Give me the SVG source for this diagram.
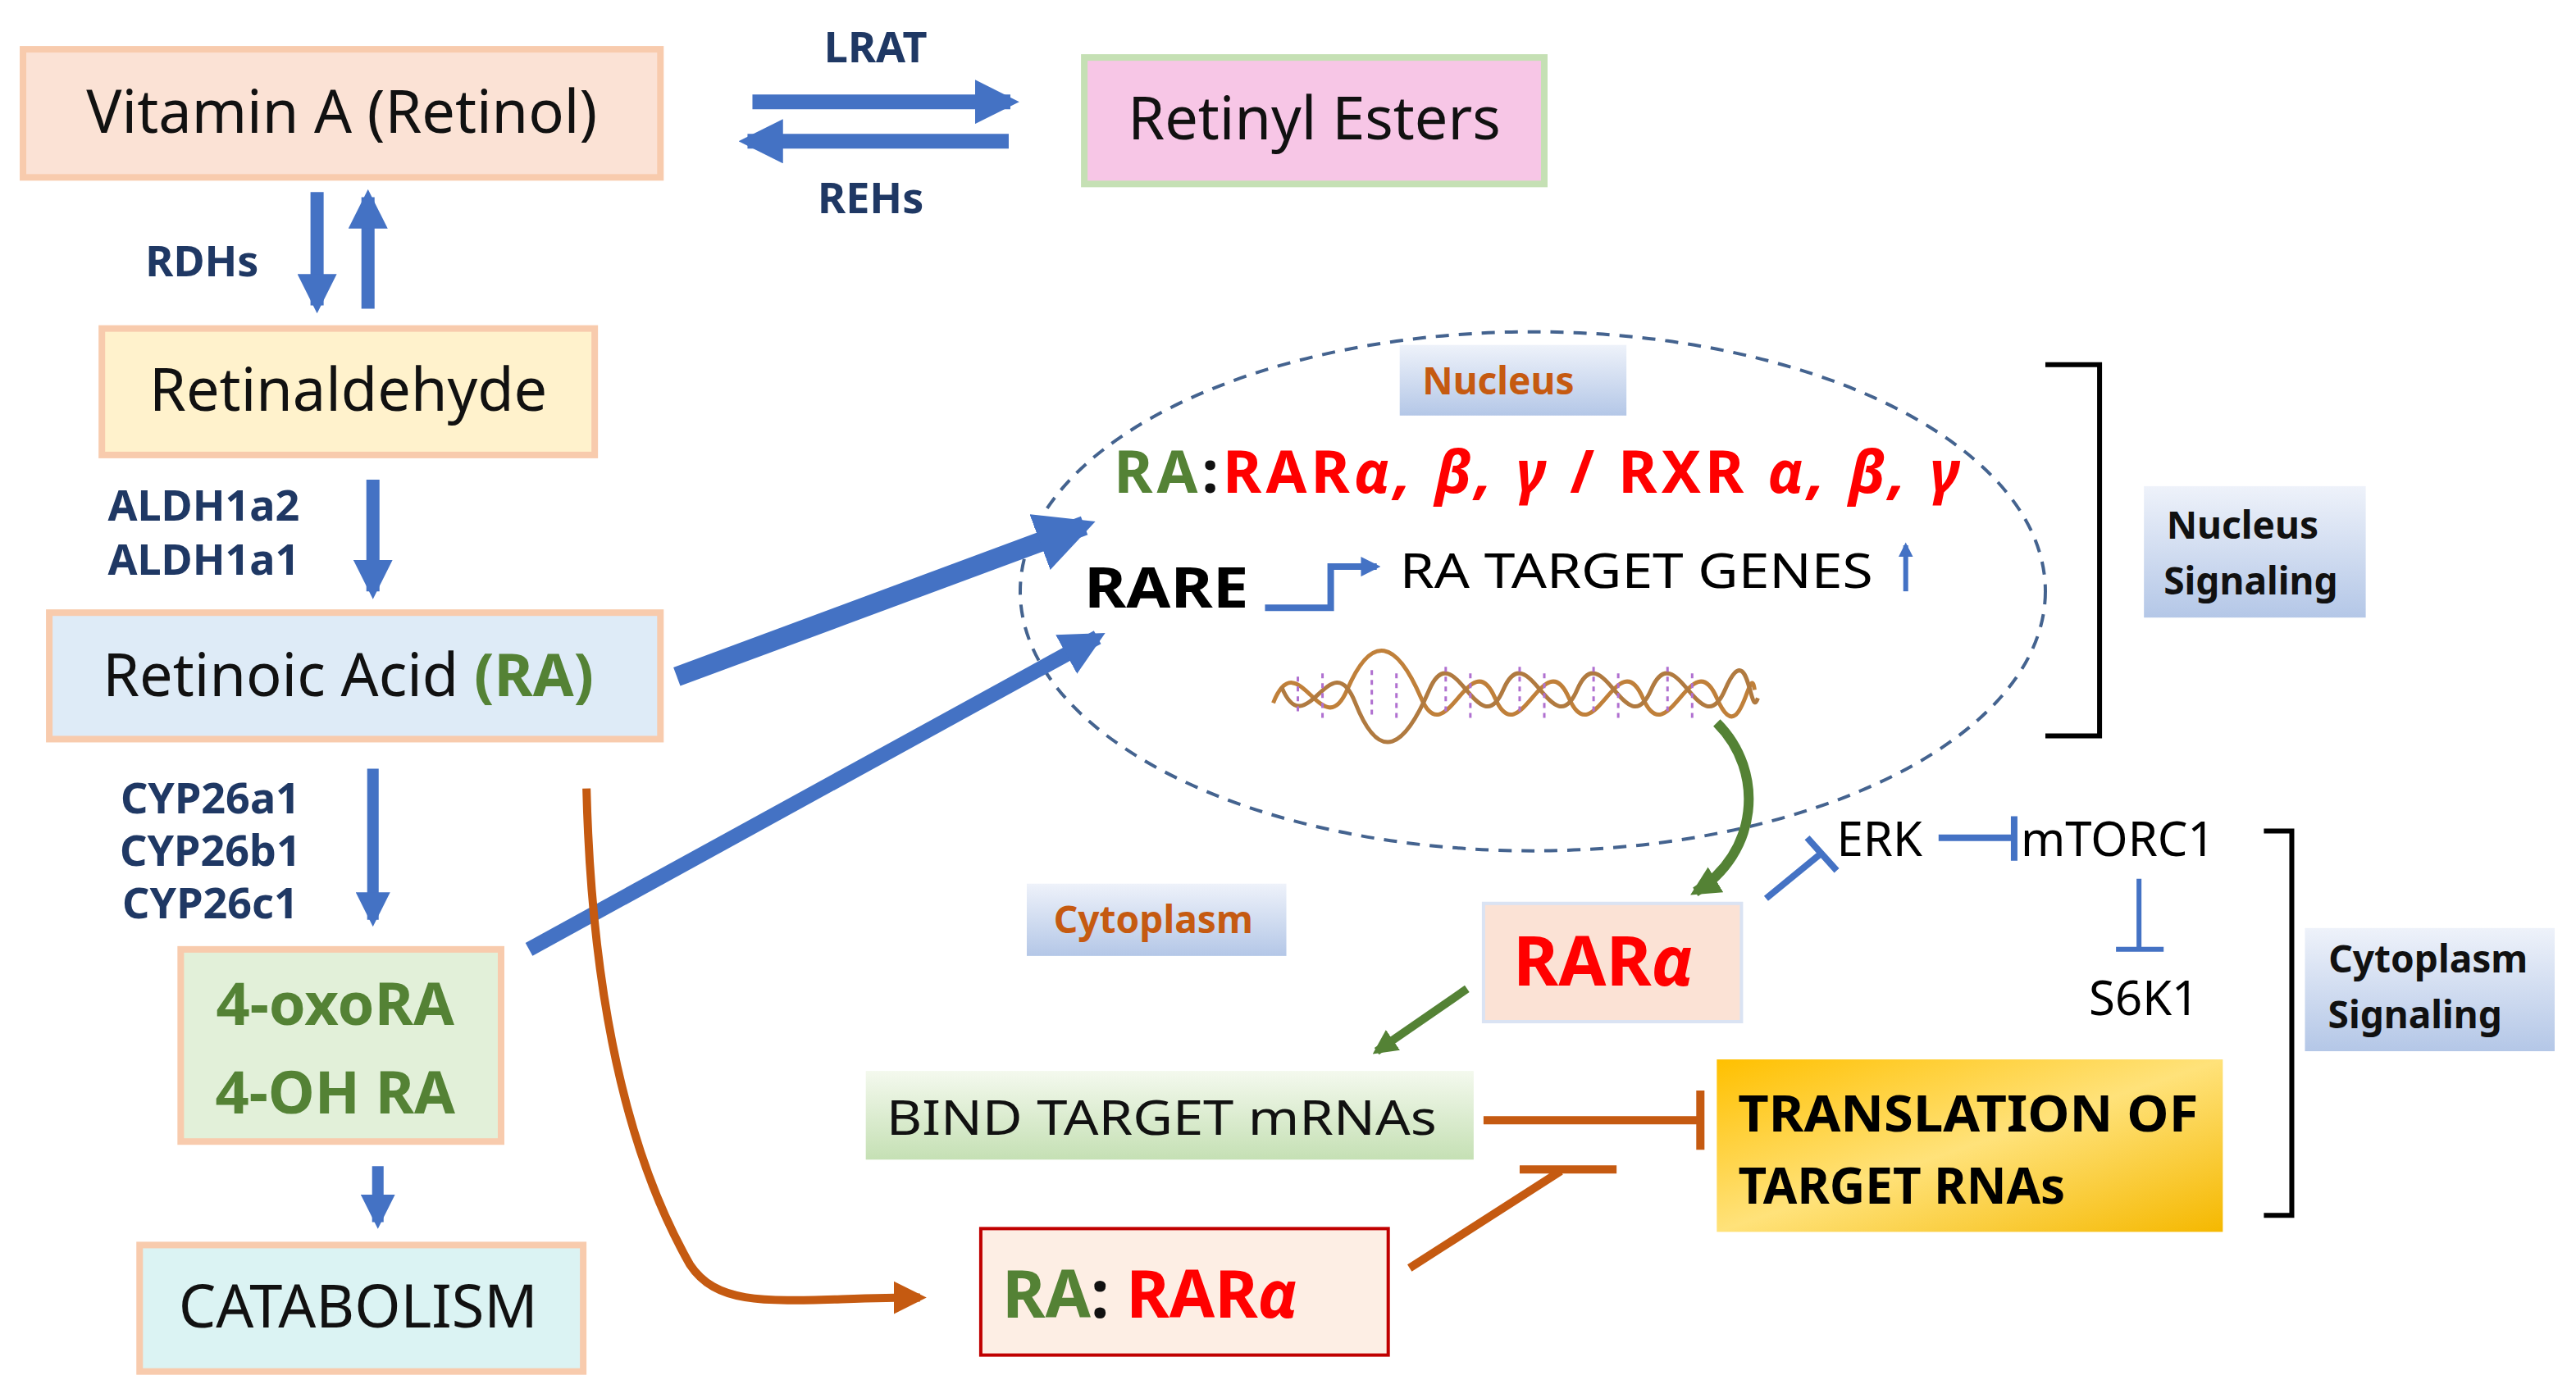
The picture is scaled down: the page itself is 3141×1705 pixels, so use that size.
<svg xmlns="http://www.w3.org/2000/svg" width="3141" height="1705" viewBox="0 0 3141 1705">
<defs>
<style>
text{font-family:"Noto Sans","Liberation Sans",sans-serif}
.lab{font-weight:bold;fill:#1f3864;font-size:26px}
.box{stroke-width:4}
.big{font-size:36px;fill:#111}
.blue{stroke:#4472c4;fill:none}
.org{stroke:#c55a11;fill:none}
</style>
<linearGradient id="gold" x1="0" y1="0" x2="1" y2="1"><stop offset="0" stop-color="#ffc000"/><stop offset="0.5" stop-color="#ffe27a"/><stop offset="1" stop-color="#f5b800"/></linearGradient>
<linearGradient id="lblue" x1="0" y1="0" x2="0" y2="1"><stop offset="0" stop-color="#eef2fa"/><stop offset="1" stop-color="#b4c7e7"/></linearGradient>
<linearGradient id="lgreen" x1="0" y1="0" x2="0" y2="1"><stop offset="0" stop-color="#f4f9ee"/><stop offset="1" stop-color="#c5e0b4"/></linearGradient>
<marker id="ab" viewBox="0 0 10 10" refX="8" refY="5" markerWidth="3" markerHeight="3" orient="auto"><path d="M0,0L10,5L0,10z" fill="#4472c4"/></marker>
<marker id="ag" viewBox="0 0 10 10" refX="8" refY="5" markerWidth="3" markerHeight="3" orient="auto"><path d="M0,0L10,5L0,10z" fill="#548235"/></marker>
<marker id="ao" viewBox="0 0 10 10" refX="8" refY="5" markerWidth="4" markerHeight="4" orient="auto"><path d="M0,0L10,5L0,10z" fill="#c55a11"/></marker>
</defs>
<rect width="3141" height="1705" fill="#fff"/>
<g transform="scale(2.0032)">
<g id="vitA"><rect x="14" y="30" width="388" height="78" fill="#fbe2d5" stroke="#f8cbad" class="box"/><text x="208" y="81" text-anchor="middle" class="big">Vitamin A (Retinol)</text></g>
<g id="esters"><rect x="660" y="35" width="280" height="77" fill="#f7c6e6" stroke="#c5e0b4" class="box"/><text x="800" y="85" text-anchor="middle" class="big">Retinyl Esters</text></g>
<g id="retinal"><rect x="62" y="200" width="300" height="77" fill="#fff2cc" stroke="#f8cbad" class="box"/><text x="212" y="250" text-anchor="middle" class="big">Retinaldehyde</text></g>
<g id="ra"><rect x="30" y="373" width="372" height="77" fill="#deebf7" stroke="#f8cbad" class="box"/><text x="212" y="424" text-anchor="middle" class="big">Retinoic Acid <tspan fill="#548235" font-weight="bold">(RA)</tspan></text></g>
<g id="oxo"><rect x="110" y="578" width="195" height="117" fill="#e2f0d9" stroke="#f8cbad" class="box"/><text x="204" y="624" text-anchor="middle" font-size="36" font-weight="bold" fill="#548235">4-oxoRA</text><text x="204" y="678" text-anchor="middle" font-size="36" font-weight="bold" fill="#548235">4-OH RA</text></g>
<g id="catab"><rect x="85" y="758" width="270" height="77" fill="#dbf3f3" stroke="#f8cbad" class="box"/><text x="218" y="808" text-anchor="middle" class="big">CATABOLISM</text></g>
<g id="nucleus"><ellipse cx="933" cy="360" rx="312" ry="158" fill="none" stroke="#44638f" stroke-width="2" stroke-dasharray="8,6"/>
<rect x="852" y="210" width="138" height="43" fill="url(#lblue)"/><text x="912" y="240" text-anchor="middle" font-size="23" font-weight="bold" fill="#c55a11">Nucleus</text>
<text x="678" y="300" font-size="36" font-weight="bold" textLength="515" lengthAdjust="spacing"><tspan fill="#548235">RA</tspan><tspan fill="#111">:</tspan><tspan fill="#ff0000">RAR<tspan font-style="italic">α, β, γ</tspan> / RXR <tspan font-style="italic">α, β, γ</tspan></tspan></text>
<text x="660" y="370" font-size="34" font-weight="bold" fill="#000" textLength="100" lengthAdjust="spacingAndGlyphs">RARE</text>
<text x="852" y="358" font-size="29" fill="#000" textLength="288" lengthAdjust="spacingAndGlyphs">RA TARGET GENES</text>
<path d="M770,370H810V345H838" class="blue" stroke-width="4" marker-end="url(#ab)"/>
<path d="M1160,360V332" class="blue" stroke-width="3" marker-end="url(#ab)"/>
<g id="dna" fill="none" stroke-width="2.5">
<path d="M775,428 C790,390 805,455 820,420 S850,390 865,425 S895,390 910,425 S940,390 955,425 S985,390 1000,425 S1030,390 1045,425 S1065,400 1068,420" stroke="#c0803a"/>
<path d="M780,418 C795,455 810,390 825,428 S855,455 870,420 S900,455 915,420 S945,455 960,420 S990,455 1005,420 S1035,455 1050,420 S1065,440 1070,425" stroke="#b07a40"/>
<path d="M790,412V434M805,410V438M835,408V436M850,410V440M880,406V436M895,410V440M925,406V436M940,410V440M970,406V436M985,410V440M1015,406V436M1030,410V440" stroke="#b070d0" stroke-width="1.5" stroke-dasharray="3,3"/>
</g>
</g>
<g id="nsig"><path d="M1245,222H1278V448H1245" fill="none" stroke="#000" stroke-width="3"/><rect x="1305" y="296" width="135" height="80" fill="url(#lblue)"/><text x="1365" y="328" text-anchor="middle" font-size="23" font-weight="bold" fill="#111">Nucleus</text><text x="1370" y="362" text-anchor="middle" font-size="23" font-weight="bold" fill="#111">Signaling</text></g>
<g id="cyto"><rect x="625" y="538" width="158" height="44" fill="url(#lblue)"/><text x="702" y="568" text-anchor="middle" font-size="23" font-weight="bold" fill="#c55a11">Cytoplasm</text></g>
<g id="rara"><rect x="903" y="550" width="157" height="72" fill="#fbe2d5" stroke="#dae3f3" stroke-width="2"/><text x="976" y="600" text-anchor="middle" font-size="42" font-weight="bold" fill="#ff0000">RAR<tspan font-style="italic">α</tspan></text></g>
<g id="erk"><text x="1118" y="521" font-size="29" fill="#000">ERK</text></g>
<g id="mtorc"><text x="1230" y="521" font-size="29" fill="#000">mTORC1</text></g>
<g id="s6k1"><text x="1305" y="618" text-anchor="middle" font-size="29" fill="#000">S6K1</text></g>
<g id="csig"><path d="M1378,506H1395V740H1378" fill="none" stroke="#000" stroke-width="3"/><rect x="1403" y="565" width="152" height="75" fill="url(#lblue)"/><text x="1478" y="592" text-anchor="middle" font-size="23" font-weight="bold" fill="#111">Cytoplasm</text><text x="1470" y="626" text-anchor="middle" font-size="23" font-weight="bold" fill="#111">Signaling</text></g>
<g id="bind"><rect x="527" y="652" width="370" height="54" fill="url(#lgreen)"/><text x="707" y="691" text-anchor="middle" font-size="29" fill="#111" textLength="335" lengthAdjust="spacingAndGlyphs">BIND TARGET mRNAs</text></g>
<g id="transl"><rect x="1045" y="645" width="308" height="105" fill="url(#gold)"/><text x="1058" y="689" font-size="30" font-weight="bold" fill="#000" textLength="280" lengthAdjust="spacingAndGlyphs">TRANSLATION OF</text><text x="1058" y="733" font-size="30" font-weight="bold" fill="#000">TARGET RNAs</text></g>
<g id="rarara"><rect x="597" y="748" width="248" height="77" fill="#fdeee4" stroke="#c00000" stroke-width="2"/><text x="610" y="802" font-size="40" font-weight="bold"><tspan fill="#548235">RA</tspan><tspan fill="#111">: </tspan><tspan fill="#ff0000">RAR<tspan font-style="italic">α</tspan></tspan></text></g>
<g id="labels">
<text x="533" y="38" text-anchor="middle" class="lab">LRAT</text>
<text x="530" y="130" text-anchor="middle" class="lab">REHs</text>
<text x="123" y="168" text-anchor="middle" class="lab">RDHs</text>
<text x="124" y="317" text-anchor="middle" class="lab">ALDH1a2</text>
<text x="124" y="350" text-anchor="middle" class="lab">ALDH1a1</text>
<text x="128" y="495" text-anchor="middle" class="lab" font-size="24">CYP26a1</text>
<text x="128" y="527" text-anchor="middle" class="lab" font-size="24">CYP26b1</text>
<text x="128" y="559" text-anchor="middle" class="lab" font-size="24">CYP26c1</text>
</g>
<g id="connectors">
<path d="M458,62H615" class="blue" stroke-width="9" marker-end="url(#ab)"/>
<path d="M614,86H455" class="blue" stroke-width="9" marker-end="url(#ab)"/>
<path d="M193,117V186" class="blue" stroke-width="8" marker-end="url(#ab)"/>
<path d="M224,188V120" class="blue" stroke-width="8" marker-end="url(#ab)"/>
<path d="M227,292V360" class="blue" stroke-width="8" marker-end="url(#ab)"/>
<path d="M227,468V560" class="blue" stroke-width="7" marker-end="url(#ab)"/>
<path d="M230,710V744" class="blue" stroke-width="7" marker-end="url(#ab)"/>
<path d="M412,412L660,320" class="blue" stroke-width="12" marker-end="url(#ab)"/>
<path d="M322,578L668,388" class="blue" stroke-width="9" marker-end="url(#ab)"/>
<path d="M1045,440C1075,470 1070,520 1032,543" stroke="#548235" stroke-width="6" fill="none" marker-end="url(#ag)"/>
<path d="M893,602L838,640" stroke="#548235" stroke-width="5" fill="none" marker-end="url(#ag)"/>
<path d="M1075,547L1108,520M1100,510L1118,530" class="blue" stroke-width="4"/>
<path d="M1180,510H1225M1226,497V524" class="blue" stroke-width="4"/>
<path d="M1302,535V578M1288,578H1317" class="blue" stroke-width="3"/>
<path d="M903,682H1033M1035,664V700" class="org" stroke-width="5"/>
<path d="M858,772L950,713M925,712H984" class="org" stroke-width="5"/>
<path d="M357,480C360,600 380,700 420,770C440,800 480,790 560,790" class="org" stroke-width="5" marker-end="url(#ao)"/>
</g>
</g>
</svg>
